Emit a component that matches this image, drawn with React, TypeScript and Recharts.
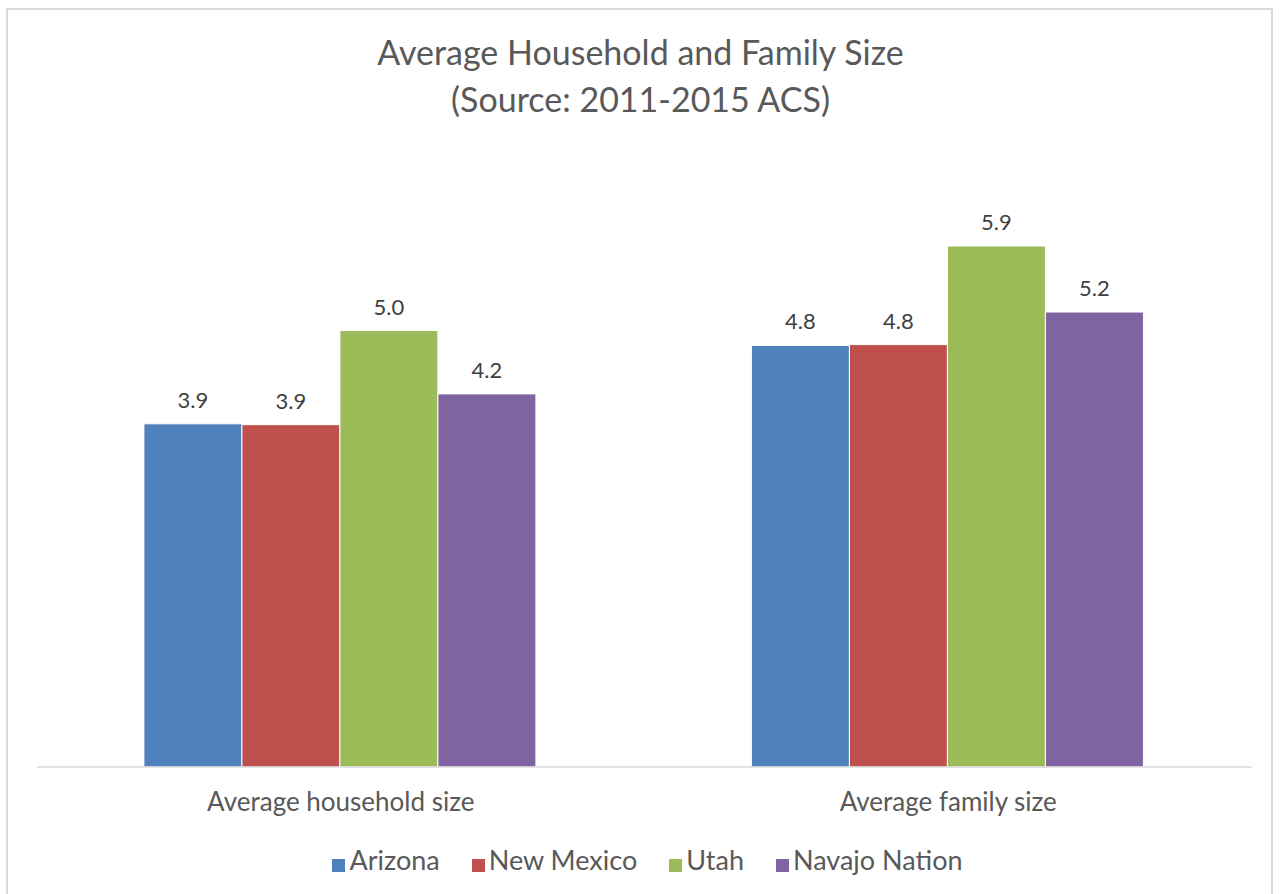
import { BarChart, Bar, XAxis, YAxis, Legend, LabelList } from "recharts";

const categories = ["Average household size", "Average family size"];
const arizona = [3.9, 4.79];
const newMexico = [3.89, 4.8];
const utah = [4.96, 5.92];
const navajoNation = [4.24, 5.17];

const seriesNames = ["Arizona", "New Mexico", "Utah", "Navajo Nation"];
const seriesColors = ["#4f81bd", "#c0504d", "#9bbb59", "#8064a2"];
const seriesValues = [arizona, newMexico, utah, navajoNation];

const chartData = categories.map((name, i) => {
  const row: Record<string, string | number> = { name };
  seriesNames.forEach((s, j) => {
    row[s] = seriesValues[j][i];
  });
  return row;
});

const font = "Lato, 'Open Sans', sans-serif";
const textColor = "#595959";

export default function App() {
  return (
    <div style={{ position: "absolute", left: 0, top: 0, width: 1281, height: 894, background: "#fff", overflow: "hidden", fontFamily: font }}>
      <div
        style={{
          position: "absolute",
          left: 6,
          top: 8,
          width: 1267,
          height: 890,
          border: "2px solid #d9d9d9",
          boxSizing: "border-box",
        }}
      />
      <div style={{ position: "absolute", left: 0, top: 28, width: 1281, textAlign: "center", color: textColor, fontSize: 34, lineHeight: "47px" }}>
        <div>Average Household and Family Size</div>
        <div>(Source: 2011-2015 ACS)</div>
      </div>
      <div style={{ position: "absolute", left: 0, top: 0 }}>
        <BarChart
          width={1281}
          height={894}
          data={chartData}
          margin={{ top: 151, right: 29, left: 37, bottom: 14 }}
          barCategoryGap="17.6%"
          barGap={0}
        >
          <XAxis
            dataKey="name"
            height={73}
            tickLine={false}
            tickSize={0}
            tickMargin={26}
            axisLine={{ stroke: "#d9d9d9", strokeWidth: 1.5 }}
            tick={{ fill: textColor, fontSize: 26, fontFamily: font }}
          />
          <YAxis hide domain={[0, 7]} />
          <Legend
            verticalAlign="bottom"
            iconType="square"
            iconSize={13}
            itemSorter={(item: { value: string }) => seriesNames.indexOf(item.value)}
            wrapperStyle={{ height: 40, fontFamily: font, marginLeft: 19, lineHeight: "40px" }}
            formatter={(value: string) => (
              <span style={{ color: textColor, fontSize: 27, paddingRight: 22 }}>{value}</span>
            )}
          />
          {seriesNames.map((s, j) => (
            <Bar key={s} dataKey={s} fill={seriesColors[j]} stroke="#fff" strokeWidth={1} isAnimationActive={false}>
              <LabelList
                dataKey={s}
                position="top"
                offset={16}
                formatter={(v: number) => v.toFixed(1)}
                style={{ fill: "#404040", fontSize: 22, fontFamily: font }}
              />
            </Bar>
          ))}
        </BarChart>
      </div>
    </div>
  );
}
